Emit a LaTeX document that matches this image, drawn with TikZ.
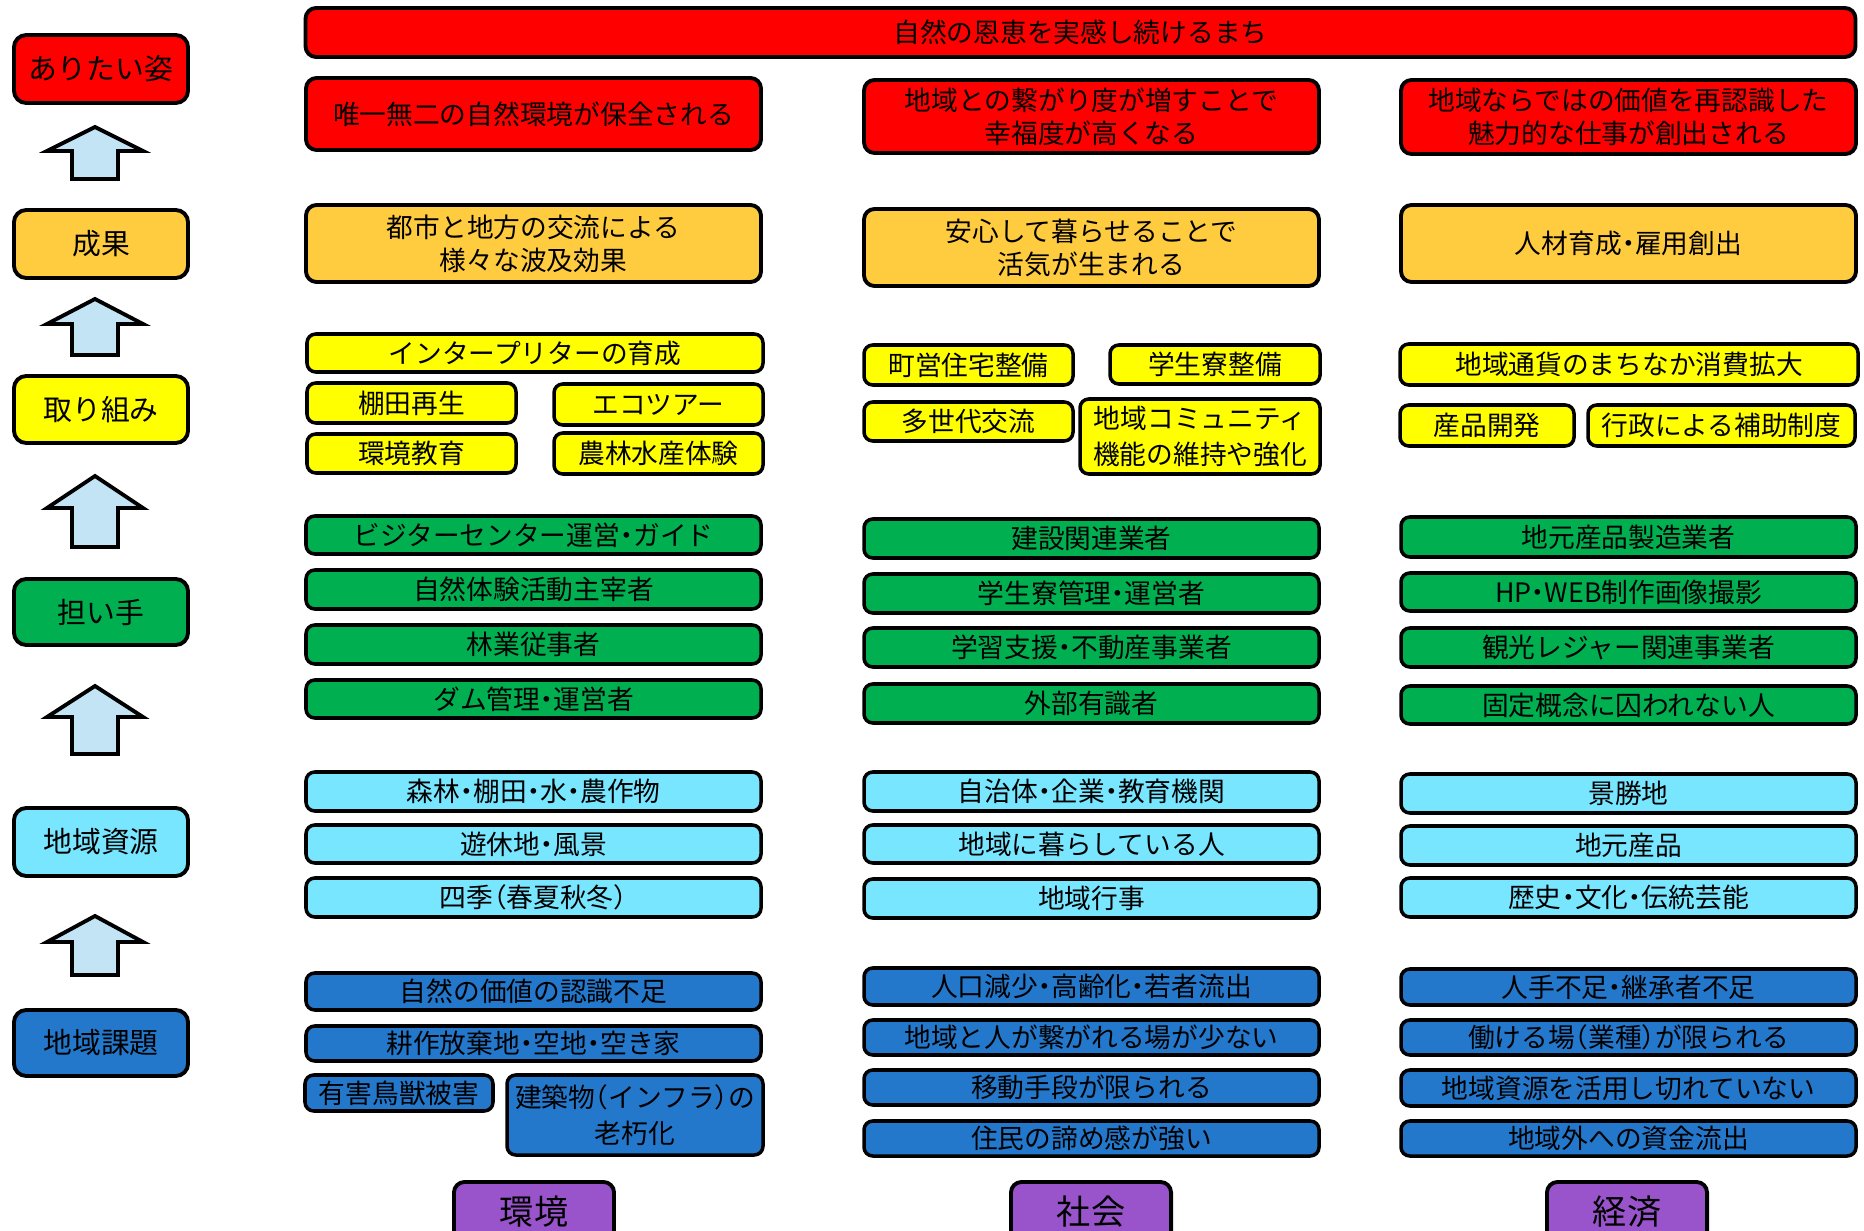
\documentclass[tikz,border=0pt]{standalone}
\usepackage{fontspec}
\setmainfont{Noto Sans CJK JP}[RawFeature=+halt]
\usetikzlibrary{calc}
\definecolor{redbox}{HTML}{FF0000}
\definecolor{orangebox}{HTML}{FFCC40}
\definecolor{yellowbox}{HTML}{FFFF00}
\definecolor{greenbox}{HTML}{00B050}
\definecolor{cyanbox}{HTML}{78E6FF}
\definecolor{bluebox}{HTML}{2478CC}
\definecolor{purplebox}{HTML}{9954CC}
\definecolor{arrowfill}{HTML}{C2E4F4}
\tikzstyle{level}=[draw,line width=1.1pt,rounded corners=3.5pt,inner sep=0pt,font=\fontsize{8.2}{10}\selectfont]
\tikzstyle{bigbox}=[draw,line width=1.1pt,rounded corners=3pt,inner sep=0pt,align=center,font=\fontsize{7.6}{9.4}\selectfont]
\tikzstyle{smallbox}=[draw,line width=1pt,rounded corners=2.5pt,inner sep=0pt,align=center,font=\fontsize{7.6}{10.2}\selectfont]
\tikzstyle{field}=[draw,line width=1.1pt,rounded corners=3pt,inner sep=0pt,font=\fontsize{9.7}{11}\selectfont]
\tikzstyle{uparrow}=[draw,line width=1.1pt,fill=arrowfill]
\tikzstyle{sized}=[minimum width={(\xb-\xa-4)*0.01cm},minimum height={(\yb-\ya-4)*0.01cm}]

\begin{document}
\begin{tikzpicture}[x=0.01cm,y=-0.01cm]
    \useasboundingbox (0,0) rectangle (1864,1231);
    % First the levels on the left
    \foreach \ya/\yb/\name/\col/\txt in {33/105/lvgoal/redbox/ありたい姿, 208/280/lvresult/orangebox/成果,
        374/445/lvaction/yellowbox/取り組み, 577/647/lvactor/greenbox/担い手,
        806/878/lvresource/cyanbox/地域資源, 1008/1078/lvissue/bluebox/地域課題}
        \node[level,fill=\col,minimum width=1.74cm,minimum height={(\yb-\ya-4)*0.01cm}] (\name) at (101,{(\ya+\yb)/2}) {\txt};

    % up arrows between the levels
    \foreach \tip/\base/\bottom in {127/151/179, 299/324/355, 476/508/547, 686/717/754, 916/942/975}
        \draw[uparrow] (95,\tip) -- (143,\base) -- (118,\base) -- (118,\bottom) -- (72,\bottom) -- (72,\base) -- (47,\base) -- cycle;

    % the goal on top
    \node[bigbox,fill=redbox,minimum width=15.49cm,minimum height=0.49cm] (goal) at (1080.5,32.5) {自然の恩恵を実感し続けるまち};

    % ありたい姿
    \foreach \xa/\ya/\xb/\yb/\name/\txt in {304/76/763/152/envgoal/唯一無二の自然環境が保全される,
        862/78/1321/155/socgoal/{地域との繋がり度が増すことで\\幸福度が高くなる},
        1399/78/1858/156/ecogoal/{地域ならではの価値を再認識した\\魅力的な仕事が創出される}}
        \node[bigbox,fill=redbox,sized] (\name) at ({(\xa+\xb)/2},{(\ya+\yb)/2}) {\txt};

    % 成果
    \foreach \xa/\ya/\xb/\yb/\name/\txt in {304/203/763/284/envresult/{都市と地方の交流による\\様々な波及効果},
        862/207/1321/288/socresult/{安心して暮らせることで\\活気が生まれる},
        1399/203/1858/284/ecoresult/人材育成・雇用創出}
        \node[bigbox,fill=orangebox,sized] (\name) at ({(\xa+\xb)/2},{(\ya+\yb)/2}) {\txt};

    % 取り組み
    \foreach \xa/\ya/\xb/\yb/\name/\txt in {305/332/765/374/envact1/インタープリターの育成,
        305/381/518/425/envact2/棚田再生, 552/382/765/427/envact3/エコツアー,
        305/432/518/475/envact4/環境教育, 552/431/765/476/envact5/農林水産体験,
        862/343/1075/387/socact1/町営住宅整備, 1108/343/1322/386/socact2/学生寮整備,
        862/400/1075/443/socact3/多世代交流, 1078/397/1322/476/socact4/{地域コミュニティ\\機能の維持や強化},
        1398/342/1860/387/ecoact1/地域通貨のまちなか消費拡大,
        1398/403/1576/448/ecoact2/産品開発, 1586/403/1857/448/ecoact3/行政による補助制度}
        \node[smallbox,fill=yellowbox,sized] (\name) at ({(\xa+\xb)/2},{(\ya+\yb)/2}) {\txt};

    % 担い手
    \foreach \xa/\ya/\xb/\yb/\name/\txt in {304/514/763/556/envactor1/ビジターセンター運営・ガイド,
        304/568/763/611/envactor2/自然体験活動主宰者, 304/623/763/666/envactor3/林業従事者,
        304/678/763/720/envactor4/ダム管理・運営者,
        862/517/1321/560/socactor1/建設関連業者, 862/572/1321/615/socactor2/学生寮管理・運営者,
        862/626/1321/669/socactor3/学習支援・不動産事業者, 862/682/1321/725/socactor4/外部有識者,
        1399/515/1858/559/ecoactor1/地元産品製造業者, 1399/571/1858/613/ecoactor2/HP・WEB制作画像撮影,
        1399/626/1858/669/ecoactor3/観光レジャー関連事業者, 1399/684/1858/726/ecoactor4/固定概念に囚われない人}
        \node[smallbox,fill=greenbox,sized] (\name) at ({(\xa+\xb)/2},{(\ya+\yb)/2}) {\txt};

    % 地域資源
    \foreach \xa/\ya/\xb/\yb/\name/\txt in {304/770/763/813/envres1/森林・棚田・水・農作物,
        304/823/763/865/envres2/遊休地・風景, 304/876/763/919/envres3/四季（春夏秋冬）,
        862/770/1321/813/socres1/自治体・企業・教育機関, 862/823/1321/865/socres2/地域に暮らしている人,
        862/877/1321/920/socres3/地域行事,
        1399/772/1858/815/ecores1/景勝地, 1399/824/1858/867/ecores2/地元産品,
        1399/876/1858/919/ecores3/歴史・文化・伝統芸能}
        \node[smallbox,fill=cyanbox,sized] (\name) at ({(\xa+\xb)/2},{(\ya+\yb)/2}) {\txt};

    % 地域課題
    \foreach \xa/\ya/\xb/\yb/\name/\txt in {304/971/763/1012/envissue1/自然の価値の認識不足,
        304/1024/763/1063/envissue2/耕作放棄地・空地・空き家,
        303/1073/495/1113/envissue3/有害鳥獣被害, 505/1073/765/1157/envissue4/{建築物（インフラ）の\\老朽化},
        862/966/1321/1007/socissue1/人口減少・高齢化・若者流出, 862/1018/1321/1057/socissue2/地域と人が繋がれる場が少ない,
        862/1068/1321/1107/socissue3/移動手段が限られる, 862/1119/1321/1158/socissue4/住民の諦め感が強い,
        1399/967/1858/1007/ecoissue1/人手不足・継承者不足, 1399/1018/1858/1057/ecoissue2/働ける場（業種）が限られる,
        1399/1068/1858/1108/ecoissue3/地域資源を活用し切れていない, 1399/1119/1858/1158/ecoissue4/地域外への資金流出}
        \node[smallbox,fill=bluebox,sized] (\name) at ({(\xa+\xb)/2},{(\ya+\yb)/2}) {\txt};

    % the three fields at the bottom
    \foreach \xa/\name/\txt in {452/envfield/環境, 1009/socfield/社会, 1545/ecofield/経済}
        \node[field,fill=purplebox,minimum width=1.6cm,minimum height=0.6cm] (\name) at ({\xa+82},1212) {\txt};
\end{tikzpicture}
\end{document}
